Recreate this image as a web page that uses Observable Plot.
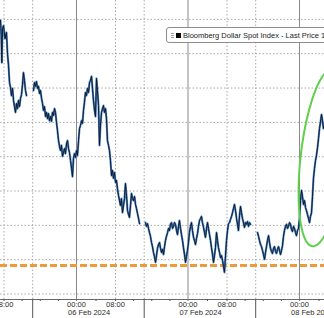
<!DOCTYPE html>
<html><head><meta charset="utf-8">
<script src="https://cdn.jsdelivr.net/npm/d3@7"></script>
<script src="https://cdn.jsdelivr.net/npm/@observablehq/plot@0.6"></script>
<style>
html,body{margin:0;padding:0;background:#fff;}
#wrap{position:relative;width:324px;height:318px;overflow:hidden;font-family:"Liberation Sans",Arial,sans-serif;}
#wrap svg{display:block;}
.legend{position:absolute;left:166px;top:27px;width:200px;height:16px;box-sizing:border-box;border:1px solid #8c8c8c;border-radius:3px;background:#fff;display:flex;align-items:center;font-size:7.5px;color:#222;white-space:nowrap;}
.legend .grip{width:3px;height:5px;margin-left:4px;background:repeating-linear-gradient(#a0a0a0 0 1px,#fff 1px 2px);}
.legend .sw{width:5px;height:5px;background:#000;margin-left:2px;margin-right:2px;}
</style></head><body>
<div id="wrap"></div>
<script>
// Bloomberg Dollar Spot Index, intraday, minutes after 2024-02-05 00:00
const minutes = [
437,446,453,462,474,493,513,526,540,553,566,579,593,606,619,632,646,659,672,685,699,712,725,738,751,765,778,
824,
871,884,897,910,924,937,950,963,977,990,1003,1016,1030,1043,1056,1069,1082,1096,1109,1122,1135,1149,1162,1175,1188,1202,1215,1228,1241,1255,1268,1281,1294,1308,1321,1334,1347,1361,1374,1387,1400,1413,1427,
1440,1452,1465,1477,1489,1502,1514,1526,1538,1550,1563,1575,1588,1600,1612,1625,1637,1649,1662,1674,1686,1698,1711,1723,1735,1748,1760,1772,1784,1797,1809,1821,1834,1846,1858,1871,1883,1895,1908,
1920,1933,1946,1960,1973,1986,1999,2013,2026,2039,2052,2066,2079,2092,2105,2119,2132,2145,2158,2172,2185,2198,2211,2225,2238,
2278,
2317,2330,2344,2357,2370,2383,2397,2410,2423,2436,2450,2463,2476,2489,2503,2516,2529,2542,2556,2569,2582,2595,2609,2622,2635,2648,2662,2675,2688,2701,2714,2728,2741,2754,2767,2781,2794,2807,2820,2834,2847,2860,2873,
2886,2898,2911,2923,2935,2948,2960,2972,2985,2997,3009,3022,3034,3046,3058,3071,3083,3095,3108,3120,3132,3145,3157,3169,3182,3194,3206,3218,3231,3243,3255,3268,3280,3292,3305,3317,3329,3342,3354,
3367,3380,3393,3406,3420,3433,3446,3459,3473,3486,3499,3512,3526,3539,3552,3565,3578,3592,3605,3618,3631,3645,3658,3671,
3711,
3764,3777,3790,3804,3817,3830,3843,3857,3870,3883,3896,3910,3923,3936,3949,3962,3976,3989,4002,4015,4029,4042,4055,4068,4082,4095,4108,4121,4135,4148,4161,4174,4188,4201,4214,4227,4241,4254,4267,4280,4293,4307,
4320,4332,4345,4357,4369,4382,4394,4406,4418,4431,4443,4455,4468,4480,4492,4505,4517,4529,4542,4554,4566,4578,4591,4603,4615,4628
];
const values = [
1265.97,1265.53,1264.74,1265.73,1265.82,1265.44,1265.62,1265.01,1264.66,1264.16,1264.02,1263.78,1263.99,1263.64,1263.46,1263.29,1263.55,1263.40,1263.64,1263.46,1263.70,1263.81,1264.10,1264.45,1264.22,1263.93,1263.78,
null,
1263.93,1264.16,1264.05,1264.19,1263.99,1264.05,1263.84,1263.93,1263.70,1263.55,1263.35,1263.46,1263.17,1263.29,1263.11,1263.26,1263.05,1263.17,1263.03,1263.29,1263.20,1263.40,1263.29,1263.00,1262.76,1262.47,1262.30,1262.18,1262.33,1262.01,1262.12,1262.24,1262.09,1262.38,1262.47,1262.24,1262.12,1261.89,1261.66,1261.42,1261.95,1262.09,1261.98,
1262.18,1262.04,1262.47,1262.82,1262.91,1263.05,1262.97,1263.35,1263.58,1263.87,1263.78,1263.99,1263.87,1264.16,1264.22,1264.34,1263.99,1263.64,1263.35,1263.17,1264.28,1263.93,1263.49,1262.33,1262.91,1263.29,1263.40,1263.49,1263.29,1263.40,1263.11,1262.47,1262.33,1262.18,1261.89,1261.45,1261.60,1261.37,1261.54,
1261.25,1261.31,1261.07,1260.87,1260.72,1260.58,1260.78,1260.37,1260.58,1260.78,1261.22,1260.87,1260.43,1260.32,1260.23,1260.58,1260.93,1260.78,1260.72,1260.84,1260.61,1260.49,1260.35,1260.20,1260.05,
null,
1260.08,1259.97,1260.05,1259.91,1259.79,1259.68,1259.50,1259.38,1259.21,1259.09,1258.92,1259.12,1259.33,1259.44,1259.50,1259.33,1259.21,1259.30,1259.15,1259.38,1259.56,1259.68,1259.79,1259.91,1259.85,1260.03,1260.08,1259.91,1259.97,1260.08,1260.03,1259.85,1259.73,1259.97,1260.14,1259.91,1259.73,1259.56,1259.35,1259.15,1258.92,1259.09,1259.27,
1259.50,1259.79,1259.97,1260.08,1259.85,1259.65,1259.56,1259.44,1259.62,1259.76,1259.97,1260.14,1260.20,1260.26,1260.08,1259.94,1259.79,1259.65,1259.91,1260.08,1259.91,1259.73,1259.56,1259.35,1259.15,1258.92,1259.12,1259.35,1259.79,1259.56,1259.35,1259.21,1259.06,1259.12,1258.98,1258.80,1258.63,1259.12,1259.56,
1259.85,1260.05,1260.08,1260.17,1260.26,1260.37,1260.49,1260.61,1260.43,1260.20,1260.03,1259.85,1260.29,1260.55,1260.37,1260.20,1260.08,1259.94,1260.08,1260.03,1260.11,1259.97,1260.08,1260.03,
null,
1259.79,1259.68,1259.56,1259.44,1259.38,1259.27,1259.15,1259.01,1259.21,1259.38,1259.56,1259.70,1259.50,1259.33,1259.24,1259.18,1259.33,1259.38,1259.24,1259.18,1259.30,1259.38,1259.27,1259.15,1259.27,1259.41,1259.68,1259.85,1259.97,1260.03,1259.91,1259.97,1260.08,1260.03,1259.88,1259.82,1259.97,1259.91,1259.79,1259.70,1259.85,1259.91,
1260.20,1260.72,1261.02,1260.84,1260.61,1260.72,1260.52,1260.43,1260.32,1260.20,1260.08,1260.26,1260.37,1260.84,1261.37,1261.66,1261.89,1262.04,1262.27,1262.53,1262.82,1263.00,1263.23,1263.05,1262.82,1262.94
];
// reference level (orange dashed)
const supportLevel = [1258.83];
// horizontal gridline values
const gridValues = [1258,1259,1260,1261,1262,1263,1264,1265,1266];
// time markers (minutes after 2024-02-05 00:00)
const dayStarts = [0, 1440, 2880, 4320];
const dateLabelDays = [1440, 2880, 4320];
const eightAM = [480, 1920, 3360, 4800];
const sessionBreaks = [860, 2300, 3740];
const minorTicks = [240, 720, 960, 1200, 1680, 2160, 2400, 2640, 3120, 3600, 3840, 4080, 4560];
const timeLabels = [480, 1440, 1920, 2880, 3360, 4320];
// highlight ellipse: centre and two conjugate semi-axes (minutes, index points)
const ellipseCentre = {m: 4603, v: 1261.97};
const ellipseAxisA = {m: -117, v: -2.58};
const ellipseAxisB = {m: 271, v: 0};
const legendLabel = "Bloomberg Dollar Spot Index - Last Price";

const base = Date.UTC(2024, 1, 5);
const toDate = m => new Date(base + m * 60000);
const rows = minutes.map((m, i) => ({date: toDate(m), value: values[i]}));
const ellipsePts = d3.range(0, 73).map(i => {
  const t = i / 72 * 2 * Math.PI;
  return {
    date: toDate(ellipseCentre.m + ellipseAxisA.m * Math.cos(t) + ellipseAxisB.m * Math.sin(t)),
    value: ellipseCentre.v + ellipseAxisA.v * Math.cos(t) + ellipseAxisB.v * Math.sin(t)
  };
});
const fmtTime = d3.utcFormat("%H:%M");
const fmtDay = d3.utcFormat("%d %b %Y");
const yDomain = [1257.84, 1266.55];

const chart = Plot.plot({
  width: 324, height: 318,
  marginTop: 0, marginBottom: 19, marginLeft: 0, marginRight: 0,
  style: {background: "#fff", fontFamily: "Liberation Sans, Arial, sans-serif", fontSize: "7.5px", overflow: "hidden"},
  x: {type: "utc", domain: [0, 480, 1440, 1920, 2880, 3360, 4320, 4800].map(toDate),
      range: [-35.5, 3.5, 76, 115, 187.5, 226.5, 299, 338], axis: null},
  y: {domain: yDomain, axis: null},
  marks: [
    Plot.ruleY(gridValues, {stroke: "#a8a8a8", strokeDasharray: "1.5,2"}),
    Plot.ruleX(eightAM.concat(sessionBreaks).map(toDate), {stroke: "#a8a8a8", strokeDasharray: "1.5,2"}),
    Plot.ruleX(dayStarts.map(toDate), {stroke: "#8a8a8a", insetBottom: -2}),
    Plot.ruleY(supportLevel, {stroke: "#ec9a3c", strokeWidth: 3, strokeDasharray: "7,3"}),
    Plot.line(rows, {x: "date", y: "value", stroke: "#4f88c8", strokeWidth: 2.1}),
    Plot.line(rows, {x: "date", y: "value", stroke: "#0d1829", strokeWidth: 1}),
    Plot.line(ellipsePts, {x: "date", y: "value", curve: "linear-closed", stroke: "#5ed04a", strokeWidth: 2, clip: true}),
    Plot.ruleY([yDomain[0]], {stroke: "#6a6a6a"}),
    Plot.ruleX(minorTicks.concat(eightAM).map(toDate), {stroke: "#555", insetTop: 299, insetBottom: -2}),
    Plot.ruleX(sessionBreaks.map(toDate), {stroke: "#555", insetTop: 299, insetBottom: -19}),
    Plot.text(timeLabels.map(toDate), {x: d => d, text: d => fmtTime(d), frameAnchor: "bottom", dy: 5.5, lineAnchor: "middle", fontSize: 7.5, fill: "#2b2b2b"}),
    Plot.text(dateLabelDays.map(toDate), {x: d => d, text: d => fmtDay(d), frameAnchor: "bottom", dy: 13.5, dx: -8.5, textAnchor: "start", lineAnchor: "middle", fontSize: 7.5, fill: "#2b2b2b"})
  ]
});
const wrap = document.getElementById("wrap");
wrap.appendChild(chart);
const legend = document.createElement("div");
legend.className = "legend";
legend.innerHTML = '<span class="grip"></span><span class="sw"></span><span></span>';
legend.lastChild.textContent = legendLabel + " " + values[values.length - 1].toFixed(2);
wrap.appendChild(legend);
</script></body></html>
